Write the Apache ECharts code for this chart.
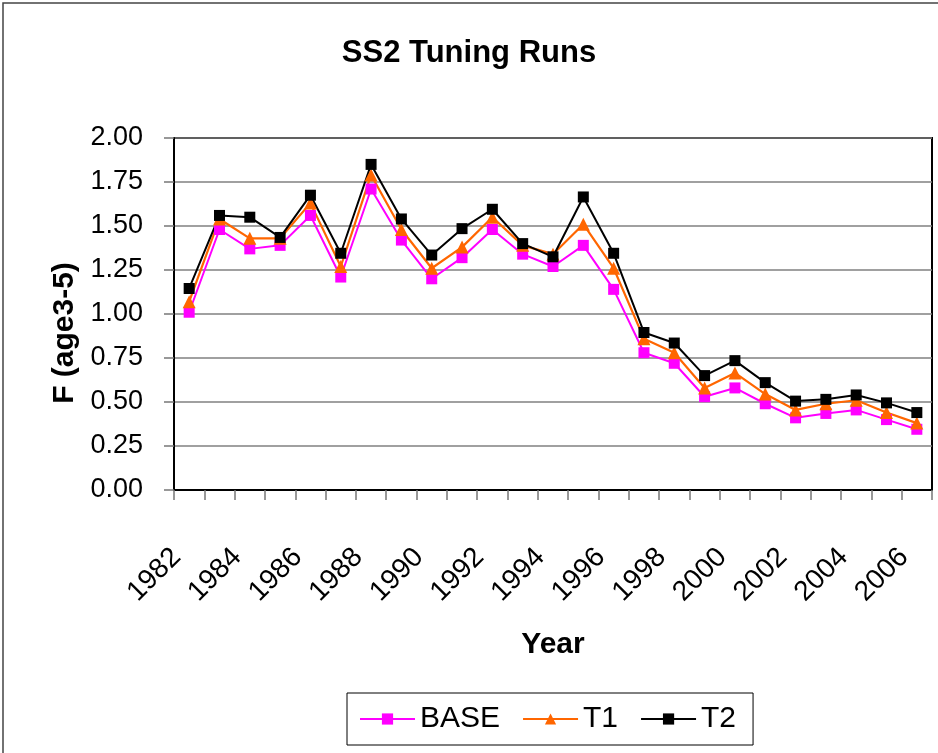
<!DOCTYPE html>
<html>
<head>
<meta charset="utf-8">
<title>SS2 Tuning Runs</title>
<script src="https://cdn.jsdelivr.net/npm/echarts@6/dist/echarts.min.js"></script>
<style>
  html, body { margin: 0; padding: 0; background: #fff; }
  #chart { width: 938px; height: 753px; }
</style>
</head>
<body>
<div id="chart"></div>
<script>
// Fishing mortality F (ages 3-5) by year for the three tuning runs
var years = ['1982','1983','1984','1985','1986','1987','1988','1989','1990','1991','1992','1993','1994',
             '1995','1996','1997','1998','1999','2000','2001','2002','2003','2004','2005','2006'];

var baseRun = [1.01, 1.48, 1.37, 1.39, 1.56, 1.21, 1.71, 1.42, 1.20, 1.32, 1.48, 1.34, 1.27,
               1.39, 1.14, 0.78, 0.72, 0.53, 0.58, 0.49, 0.41, 0.435, 0.455, 0.40, 0.345];

var t1Run   = [1.07, 1.54, 1.43, 1.43, 1.63, 1.27, 1.79, 1.48, 1.26, 1.38, 1.55, 1.39, 1.34,
               1.51, 1.26, 0.86, 0.78, 0.58, 0.665, 0.545, 0.455, 0.49, 0.51, 0.44, 0.38];

var t2Run   = [1.145, 1.56, 1.55, 1.435, 1.675, 1.345, 1.85, 1.54, 1.335, 1.485, 1.595, 1.40, 1.325,
               1.665, 1.345, 0.895, 0.835, 0.65, 0.735, 0.61, 0.505, 0.515, 0.54, 0.495, 0.44];

var seriesNames = ['BASE', 'T1', 'T2'];
var yTicks = { min: 0, max: 2, step: 0.25 };

var FONT = "'Liberation Sans', Arial, sans-serif";

var chart = echarts.init(document.getElementById('chart'), null, { renderer: 'canvas' });

function lineSeries(name, data, color, symbol, size, width) {
  return {
    name: name,
    type: 'line',
    data: data,
    symbol: symbol,
    symbolSize: size,
    showAllSymbol: true,
    lineStyle: { color: color, width: width },
    itemStyle: { color: color },
    emphasis: { disabled: true },
    animation: false
  };
}

chart.setOption({
  backgroundColor: '#ffffff',
  animation: false,
  title: {
    text: 'SS2 Tuning Runs',
    left: 'center',
    top: 33,
    padding: [5, 0, 5, 10],
    textStyle: { fontFamily: FONT, fontSize: 31, fontWeight: 'bold', color: '#000' }
  },
  graphic: [{
    type: 'rect',
    silent: true,
    shape: { x: 3, y: 3, width: 1000, height: 1000 },
    style: { fill: 'none', stroke: '#444', lineWidth: 1.5 }
  }],
  grid: {
    left: 174, top: 138, right: 6, bottom: 263,
    show: true, borderColor: '#000', borderWidth: 2, backgroundColor: 'transparent'
  },
  legend: {
    data: seriesNames,
    left: 347, top: 693,
    padding: [11, 17, 11, 12],
    itemGap: 22,
    itemWidth: 55,
    itemHeight: 14,
    borderColor: '#000',
    borderWidth: 1,
    textStyle: { fontFamily: FONT, fontSize: 30, color: '#000' }
  },
  xAxis: {
    type: 'category',
    data: years,
    boundaryGap: true,
    name: 'Year',
    nameLocation: 'middle',
    nameGap: 140,
    nameTextStyle: { fontFamily: FONT, fontSize: 30, fontWeight: 'bold', color: '#000' },
    axisLine: { show: true, lineStyle: { color: '#000', width: 2 } },
    axisTick: { show: true, interval: 0, length: 10, lineStyle: { color: '#777', width: 1.5 } },
    axisLabel: {
      interval: 1, rotate: 45, margin: 50,
      padding: [0, 18, 0, 0],
      fontFamily: FONT, fontSize: 28, color: '#000'
    },
    splitLine: { show: false }
  },
  yAxis: {
    type: 'value',
    min: yTicks.min, max: yTicks.max, interval: yTicks.step,
    name: 'F (age3-5)',
    nameLocation: 'middle',
    nameGap: 72,
    nameTextStyle: {
      fontFamily: FONT, fontSize: 30, fontWeight: 'bold', color: '#000',
      padding: [0, 38, 0, 0]
    },
    axisLine: { show: true, lineStyle: { color: '#000', width: 2 } },
    axisTick: { show: true, length: 10, lineStyle: { color: '#777', width: 1.5 } },
    axisLabel: {
      margin: 31,
      fontFamily: FONT, fontSize: 27, color: '#000',
      formatter: function (v) { return v.toFixed(2); }
    },
    splitLine: { show: true, lineStyle: { color: '#808080', width: 1.5 } }
  },
  series: [
    lineSeries(seriesNames[0], baseRun, '#FF00FF', 'rect', 11, 2),
    lineSeries(seriesNames[1], t1Run, '#FF6600', 'triangle', 13, 2.2),
    lineSeries(seriesNames[2], t2Run, '#000000', 'rect', 11, 2)
  ]
});
</script>
</body>
</html>
